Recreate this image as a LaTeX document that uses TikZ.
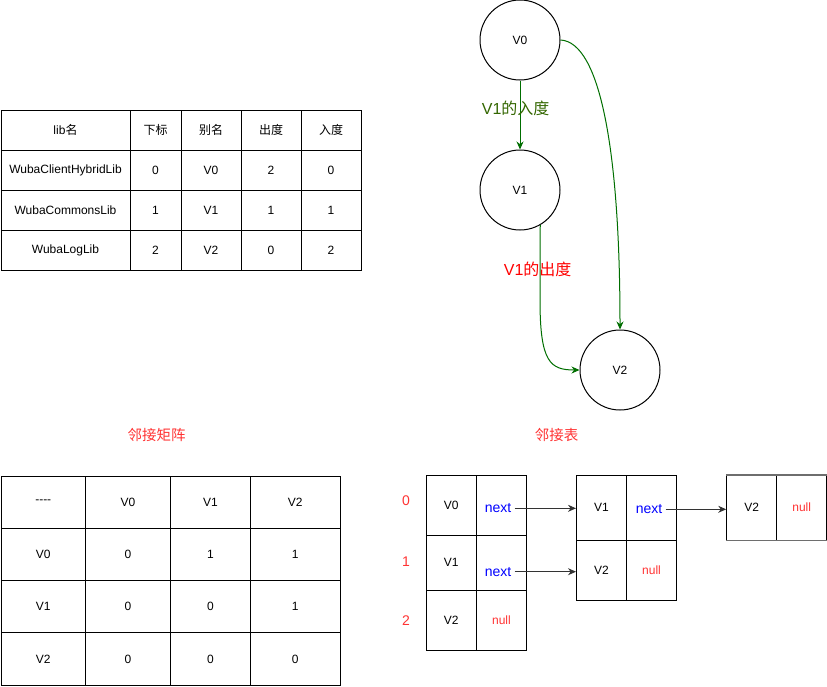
\documentclass[tikz,border=0pt]{standalone}
\usepackage{fontspec}
\setmainfont{Liberation Sans}
\newfontfamily\cjk{Noto Sans CJK SC}
\usetikzlibrary{arrows.meta}
\definecolor{edgegreen}{RGB}{0,110,0}
\definecolor{labgreen}{RGB}{51,102,0}
\definecolor{titlered}{RGB}{255,51,51}
\definecolor{purered}{RGB}{255,0,0}
\definecolor{nextblue}{RGB}{0,0,255}
\definecolor{arrowgray}{RGB}{51,51,51}
\definecolor{bordergray}{RGB}{110,110,110}
\begin{document}
\begin{tikzpicture}[x=1pt,y=-1pt,line width=1pt,
  every node/.style={font=\fontsize{12}{14}\selectfont},
  cell/.style={draw=black,line width=1pt,inner sep=0pt,anchor=center},
  vertex/.style={draw=black,circle,minimum size=80pt,inner sep=0pt},
  gedge/.style={draw=edgegreen,line width=1pt,-{Stealth[length=8pt,width=7pt]}},
  larrow/.style={draw=arrowgray,line width=1pt,-{Stealth[length=8pt,width=7pt]}},
  title/.style={text=titlered,font=\fontsize{14.5}{16}\cjk},
  idx/.style={text=titlered,font=\fontsize{14}{16}\selectfont},
  nexttxt/.style={text=nextblue,font=\fontsize{14}{16}\selectfont,inner sep=3pt},
  elabel/.style={font=\fontsize{16}{18}\selectfont,inner sep=0pt}
]
\useasboundingbox (0,0) rectangle (827,686);

% ---------- top table ----------
\tikzset{
  ca/.style={cell,minimum width=129,minimum height=40},
  cb/.style={cell,minimum width=51,minimum height=40},
  cc/.style={cell,minimum width=60,minimum height=40}}
\node[ca] (t0a) at (65.5,130) {lib{\cjk 名}};
\node[cb] (t0b) at (155.5,130) {\cjk 下标};
\node[cc] (t0c) at (211,130) {\cjk 别名};
\node[cc] (t0d) at (271,130) {\cjk 出度};
\node[cc] (t0e) at (331,130) {\cjk 入度};
\node[ca] (t1a) at (65.5,170) {WubaClientHybridLib};
\node[cb] (t1b) at (155.5,170) {0};
\node[cc] (t1c) at (211,170) {V0};
\node[cc] (t1d) at (271,170) {2};
\node[cc] (t1e) at (331,170) {0};
\node[ca] (t2a) at (65.5,210) {WubaCommonsLib};
\node[cb] (t2b) at (155.5,210) {1};
\node[cc] (t2c) at (211,210) {V1};
\node[cc] (t2d) at (271,210) {1};
\node[cc] (t2e) at (331,210) {1};
\node[ca] (t3a) at (65.5,250) {WubaLogLib};
\node[cb] (t3b) at (155.5,250) {2};
\node[cc] (t3c) at (211,250) {V2};
\node[cc] (t3d) at (271,250) {0};
\node[cc] (t3e) at (331,250) {2};

% ---------- graph ----------
\node[vertex] (v0) at (520,40) {V0};
\node[vertex] (v1) at (520,190) {V1};
\node[vertex] (v2) at (620,370) {V2};
\draw[gedge] (v0.south) -- (v1.north);
\draw[gedge] (v0.east) .. controls (600,42) and (620,150) .. (v2.north);
\draw[gedge] (v1.-60) -- (540,300) .. controls (540,362) and (550,370) .. (v2.west);
\node[elabel,text=labgreen] (lin) at (515.7,108) {V1{\cjk 的入度}};
\node[elabel,text=purered] (lout) at (537.7,269) {V1{\cjk 的出度}};

% ---------- adjacency matrix ----------
\node[title] (mtitle) at (156.7,435) {邻接矩阵};
\tikzset{
  ma/.style={cell,minimum width=84.5,minimum height=52.25},
  mb/.style={cell,minimum width=85,minimum height=52.25},
  mc/.style={cell,minimum width=80,minimum height=52.25},
  md/.style={cell,minimum width=89.5,minimum height=52.25}}
\node[ma] (m0a) at (43.25,502.125) {{-}{-}{-}{-}};
\node[mb] (m0b) at (128,502.125) {V0};
\node[mc] (m0c) at (210.5,502.125) {V1};
\node[md] (m0d) at (295.25,502.125) {V2};
\node[ma] (m1a) at (43.25,554.375) {V0};
\node[mb] (m1b) at (128,554.375) {0};
\node[mc] (m1c) at (210.5,554.375) {1};
\node[md] (m1d) at (295.25,554.375) {1};
\node[ma] (m2a) at (43.25,606.625) {V1};
\node[mb] (m2b) at (128,606.625) {0};
\node[mc] (m2c) at (210.5,606.625) {0};
\node[md] (m2d) at (295.25,606.625) {1};
\node[ma] (m3a) at (43.25,658.875) {V2};
\node[mb] (m3b) at (128,658.875) {0};
\node[mc] (m3c) at (210.5,658.875) {0};
\node[md] (m3d) at (295.25,658.875) {0};

% ---------- adjacency list ----------
\node[title] (ltitle) at (556.7,435) {邻接表};
\node[idx] (i0) at (406,501) {0};
\node[idx] (i1) at (406,561.7) {1};
\node[idx] (i2) at (406,621) {2};

\node[cell,minimum width=50.3,minimum height=60] (a0a) at (451.15,505.3) {V0};
\node[cell,minimum width=50.3,minimum height=60] (a0b) at (501.45,505.3) {};
\node[cell,minimum width=50.3,minimum height=55] (a1a) at (451.15,562.8) {V1};
\node[cell,minimum width=50.3,minimum height=55] (a1b) at (501.45,562.8) {};
\node[cell,minimum width=50.3,minimum height=59.7] (a2a) at (451.15,620.15) {V2};
\node[cell,minimum width=50.3,minimum height=59.7,text=titlered] (a2b) at (501.45,620.15) {null};
\node[nexttxt] (n0) at (498,508.3) {next};
\node[nexttxt] (n1) at (498,571.7) {next};

\node[cell,minimum width=50,minimum height=65] (b0a) at (601.5,507.8) {V1};
\node[cell,minimum width=50,minimum height=65] (b0b) at (651.5,507.8) {};
\node[cell,minimum width=50,minimum height=60] (b1a) at (601.5,570.3) {V2};
\node[cell,minimum width=50,minimum height=60,text=titlered] (b1b) at (651.5,570.3) {null};
\node[nexttxt] (n2) at (649,509.3) {next};

\node[cell,minimum width=50,minimum height=64.7] (c0a) at (751.7,507.65) {V2};
\node[cell,minimum width=50,minimum height=64.7,text=titlered] (c0b) at (801.7,507.65) {null};
\draw[draw=bordergray,line width=1.5pt] (c0a.north west) -- (c0b.north east);
\draw[draw=bordergray,line width=1.5pt] (c0a.south west) -- (c0b.south east);

\draw[larrow] (n0.east) -- (n0.east -| b0a.west);
\draw[larrow] (n1.east) -- (n1.east -| b1a.west);
\draw[larrow] (n2.east) -- (n2.east -| c0a.west);
\end{tikzpicture}
\end{document}
